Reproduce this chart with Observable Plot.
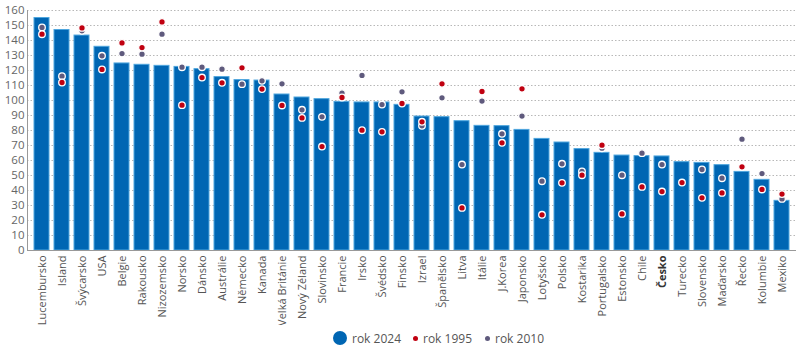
<!DOCTYPE html>
<html>
<head>
<meta charset="utf-8">
<script src="https://cdn.jsdelivr.net/npm/d3@7"></script>
<script src="https://cdn.jsdelivr.net/npm/@observablehq/plot@0.6"></script>
<style>
  body { margin: 0; background: #fff; font-family: "Open Sans", sans-serif; }
  #chart { position: relative; width: 800px; }
  #legend { position: relative; width: 800px; height: 25px; font-size: 12px; color: #555; }
  #legend .it { position: absolute; top: 0; height: 26px; display: flex; align-items: center; }
  #legend .sw { border-radius: 50%; display: inline-block; margin-right: 5px; }
</style>
</head>
<body>
<div id="chart"></div>
<div id="legend"></div>
<script>
const countries = ["Lucembursko","Island","Švýcarsko","USA","Belgie","Rakousko","Nizozemsko","Norsko","Dánsko","Austrálie","Německo","Kanada","Velká Británie","Nový Zéland","Slovinsko","Francie","Irsko","Švédsko","Finsko","Izrael","Španělsko","Litva","Itálie","J.Korea","Japonsko","Lotyšsko","Polsko","Kostarika","Portugalsko","Estonsko","Chile","Česko","Turecko","Slovensko","Maďarsko","Řecko","Kolumbie","Mexiko"];
const v2024 = [155,147,143.3,135.8,124.7,123.8,123.1,122.4,120.9,115.6,113.6,113.3,104,102,100.9,99.1,98.7,98.7,97.1,89.3,88.9,86.2,83.1,82.9,80.4,74.4,72,67.6,65.1,63.3,62.9,62.7,58.9,58.4,56.9,52.4,47.1,33.1];
const v1995 = [144.2,112,148.4,120.7,138.4,135.3,152.4,96.9,115.3,111.8,121.8,107.6,96.7,88.4,69.3,102,80.2,79.1,98,85.8,111.1,28.4,106,71.8,107.8,23.8,45.1,50.2,70.2,24.4,42.4,39.3,45.3,35.1,38.4,55.8,40.7,37.6];
const v2010 = [148.7,116.2,146.5,129.8,131.3,130.9,144.2,122.2,122.2,120.9,110.9,113.1,111.1,93.8,89.1,104.9,116.7,97.3,105.8,83.1,101.8,57.3,99.6,77.8,89.6,46.2,57.8,52.7,68.2,50.2,64.9,57.3,null,54,48.2,74.2,51.3,34.4];
const yTicks = [0,10,20,30,40,50,60,70,80,90,100,110,120,130,140,150,160];
const legendItems = ["rok 2024","rok 1995","rok 2010"];

const data = countries.map((c, i) => ({c, v2024: v2024[i], v1995: v1995[i], v2010: v2010[i]}));

const plot = Plot.plot({
  width: 800,
  height: 325,
  marginLeft: 27,
  marginRight: 4,
  marginTop: 10,
  marginBottom: 75,
  style: {fontFamily: "Open Sans, sans-serif", fontSize: "11px", color: "#555", background: "#fff"},
  x: {domain: countries, padding: 0.27, label: null},
  y: {domain: [0, 160], label: null},
  marks: [
    Plot.gridY(yTicks.slice(1), {stroke: "#b8b8b8", strokeOpacity: 1, strokeDasharray: "1.5,2"}),
    Plot.barY(data, {x: "c", y: "v2024", fill: "#0066b3", stroke: "#4ea6de", strokeWidth: 1}),
    Plot.dot(data.filter(d => d.v2010 != null), {x: "c", y: "v2010", r: 3.3, fill: "#5f5a7d", stroke: "white", strokeWidth: 1.3}),
    Plot.dot(data, {x: "c", y: "v1995", r: 3.3, fill: "#c00010", stroke: "white", strokeWidth: 1.3}),
    Plot.frame({anchor: "left", stroke: "#999"}),
    Plot.ruleY([0], {stroke: "#999"}),
    Plot.axisY(yTicks, {tickSize: 0, tickPadding: 3, label: null, fontSize: 11.5, fill: "#666"}),
    Plot.axisX({tickRotate: -90, tickSize: 0, tickPadding: 5, label: null, fontSize: 11, fill: "#555"})
  ]
});
document.getElementById("chart").appendChild(plot);
plot.querySelectorAll("text").forEach(t => {
  if (t.textContent === "Česko") { t.setAttribute("font-weight", "bold"); t.setAttribute("fill", "#333"); }
});

const legend = document.getElementById("legend");
const specs = [
  {left: 333, size: 14, color: "#0066b3"},
  {left: 413, size: 5, color: "#c00010"},
  {left: 485, size: 5, color: "#5f5a7d"}
];
legendItems.forEach((lab, i) => {
  const it = document.createElement("div");
  it.className = "it";
  it.style.left = specs[i].left + "px";
  const sw = document.createElement("span");
  sw.className = "sw";
  sw.style.width = specs[i].size + "px";
  sw.style.height = specs[i].size + "px";
  sw.style.background = specs[i].color;
  it.appendChild(sw);
  const tx = document.createElement("span");
  tx.textContent = lab;
  it.appendChild(tx);
  legend.appendChild(it);
});
</script>
</body>
</html>
